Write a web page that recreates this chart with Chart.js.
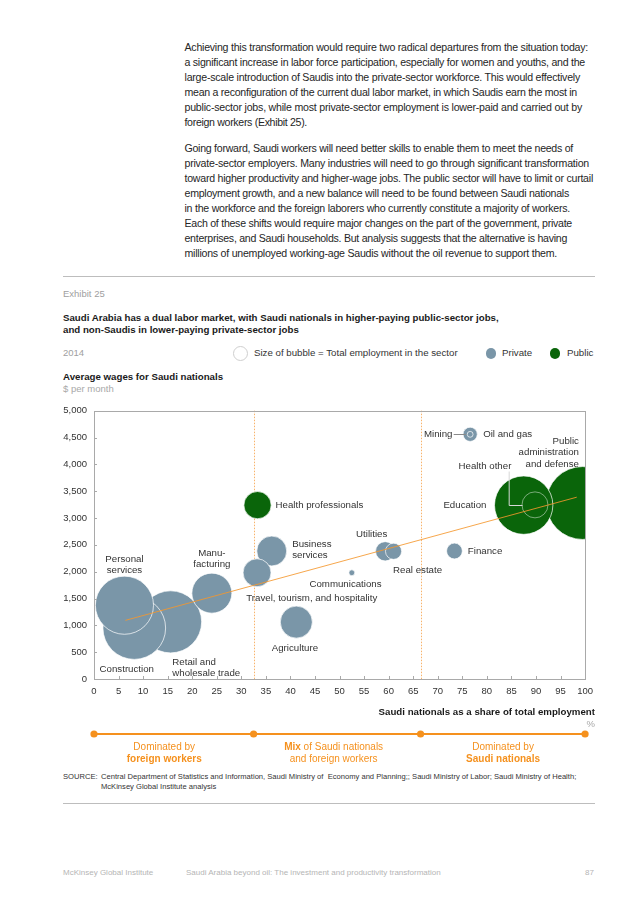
<!DOCTYPE html>
<html><head><meta charset="utf-8">
<script src="https://cdn.jsdelivr.net/npm/chart.js@4.4.1/dist/chart.umd.min.js"></script>
<style>
body{margin:0;background:#fff;width:636px;height:900px;position:relative;overflow:hidden;font-family:"Liberation Sans",Arial,sans-serif;color:#222}
.a{position:absolute;white-space:nowrap}
.body{left:184.5px;font-size:10.6px;line-height:15px;color:#262626}
.rule{position:absolute;left:63px;width:532px;height:1px;background:#bdbdbd}
.grey{color:#9a9a9a}
#wrap{position:absolute;left:60px;top:398px;width:540px;height:372px}
.dot{position:absolute;border-radius:50%}
</style></head><body>

<div class="a body fit" data-w="403.5" style="top:39.5px">Achieving this transformation would require two radical departures from the situation today:</div>
<div class="a body fit" data-w="400.5" style="top:54.5px">a significant increase in labor force participation, especially for women and youths, and the</div>
<div class="a body fit" data-w="395.5" style="top:69.5px">large-scale introduction of Saudis into the private-sector workforce. This would effectively</div>
<div class="a body fit" data-w="392.5" style="top:84.5px">mean a reconfiguration of the current dual labor market, in which Saudis earn the most in</div>
<div class="a body fit" data-w="397.5" style="top:99.5px">public-sector jobs, while most private-sector employment is lower-paid and carried out by</div>
<div class="a body fit" data-w="122.5" style="top:114.5px">foreign workers (Exhibit 25).</div>

<div class="a body fit" data-w="388.5" style="top:141px">Going forward, Saudi workers will need better skills to enable them to meet the needs of</div>
<div class="a body fit" data-w="404.5" style="top:156px">private-sector employers. Many industries will need to go through significant transformation</div>
<div class="a body fit" data-w="408.5" style="top:171px">toward higher productivity and higher-wage jobs. The public sector will have to limit or curtail</div>
<div class="a body fit" data-w="384.5" style="top:186px">employment growth, and a new balance will need to be found between Saudi nationals</div>
<div class="a body fit" data-w="385.5" style="top:201px">in the workforce and the foreign laborers who currently constitute a majority of workers.</div>
<div class="a body fit" data-w="387.5" style="top:216px">Each of these shifts would require major changes on the part of the government, private</div>
<div class="a body fit" data-w="382.5" style="top:231px">enterprises, and Saudi households. But analysis suggests that the alternative is having</div>
<div class="a body fit" data-w="372.5" style="top:246px">millions of unemployed working-age Saudis without the oil revenue to support them.</div>

<div class="rule" style="top:276px"></div>

<div class="a" style="left:63px;top:288px;font-size:9.5px;color:#a0a0a0">Exhibit 25</div>
<div class="a" style="left:63px;top:311.5px;font-size:9.7px;font-weight:bold;line-height:12.5px;color:#1a1a1a">Saudi Arabia has a dual labor market, with Saudi nationals in higher-paying public-sector jobs,<br>and non-Saudis in lower-paying private-sector jobs</div>

<div class="a" style="left:63px;top:347px;font-size:9.5px;color:#a0a0a0">2014</div>
<div class="dot" style="left:232.5px;top:346px;width:13px;height:13px;border:1px solid #cfcfcf"></div>
<div class="a" style="left:254px;top:347px;font-size:9.7px;color:#333">Size of bubble = Total employment in the sector</div>
<div class="dot" style="left:485.5px;top:348px;width:10.5px;height:10.5px;background:#7a96a8"></div>
<div class="a" style="left:502px;top:347px;font-size:9.7px;color:#333">Private</div>
<div class="dot" style="left:549.5px;top:348px;width:10.5px;height:10.5px;background:#0a650a"></div>
<div class="a" style="left:567px;top:347px;font-size:9.7px;color:#333">Public</div>

<div class="a" style="left:63px;top:371px;font-size:9.7px;font-weight:bold;color:#1a1a1a">Average wages for Saudi nationals</div>
<div class="a" style="left:63px;top:382.5px;font-size:9.5px;color:#a8a8a8">$ per month</div>

<div id="wrap"><canvas id="c"></canvas></div>

<div class="a" style="right:41px;top:706px;font-size:9.7px;font-weight:bold;color:#1a1a1a">Saudi nationals as a share of total employment</div>
<div class="a" style="right:41px;top:717.5px;font-size:9.5px;color:#a8a8a8">%</div>

<div class="a" style="left:63px;top:772px;font-size:7.6px;line-height:10px;color:#333">SOURCE:</div>
<div class="a" style="left:101px;top:772px;font-size:7.6px;line-height:10px;color:#333">Central Department of Statistics and Information, Saudi Ministry of&nbsp; Economy and Planning;; Saudi Ministry of Labor; Saudi Ministry of Health;<br>McKinsey Global Institute analysis</div>

<div class="rule" style="top:803px"></div>

<div class="a" style="left:63px;top:868px;font-size:8px;color:#b5b5b5">McKinsey Global Institute</div>
<div class="a" style="left:186px;top:868px;font-size:8px;color:#b5b5b5">Saudi Arabia beyond oil: The investment and productivity transformation</div>
<div class="a" style="right:42px;top:868px;font-size:8px;color:#b5b5b5">87</div>

<script>
// ---------- DATA ----------
const sectors = ["Public administration and defense","Education","Health other","Health professionals",
  "Retail and wholesale trade","Construction","Personal services","Manufacturing","Business services",
  "Travel, tourism, and hospitality","Agriculture","Communications","Utilities","Real estate","Finance",
  "Oil and gas","Mining"];
const saudiShare = [99.5, 87.5, 89.8, 33.3, 15.6, 8.2, 6.2, 24.0, 36.2, 33.2, 41.2, 52.5, 59.3, 61.0, 73.4, 76.6, 76.6];
const avgWage    = [3280, 3240, 3245, 3240, 1065, 950, 1375, 1600, 2385, 1980, 1060, 1980, 2380, 2380, 2385, 4560, 4560];
const employmentK= [2790, 1790, 355, 390, 2025, 2065, 1775, 840, 470, 410, 540, 18, 196, 137, 131, 106, 18];
const sectorType = ["Public","Public","Public","Public","Private","Private","Private","Private","Private",
  "Private","Private","Private","Private","Private","Private","Private","Private"];
const trendShare = [6.4, 98.3];
const trendWage  = [1093, 3388];
const zoneBounds = [0, 32.5, 66.5, 100];
const xTickStep = 5, yTickStep = 500;

// ---------- STYLE ----------
const COLORS = {Private:'#7a96a8', Public:'#0a650a'};
const ORANGE = '#f5911e';
const R_SCALE = 0.69;
const FONT = '"Liberation Sans", Arial, sans-serif';

// label placement relative to bubble centre (px)
const labelSpec = {
  "Personal services": {lines:["Personal","services"], dx:0, dy:-46, align:'center'},
  "Construction": {lines:["Construction"], dx:-7.5, dy:41.5, align:'center'},
  "Retail and wholesale trade": {lines:["Retail and","wholesale trade"], dx:1.7, dy:40, align:'left'},
  "Manufacturing": {lines:["Manu-","facturing"], dx:0, dy:-40, align:'center'},
  "Health professionals": {lines:["Health professionals"], dx:18, dy:0, align:'left'},
  "Business services": {lines:["Business","services"], dx:20.4, dy:-7, align:'left'},
  "Travel, tourism, and hospitality": {lines:["Travel, tourism, and hospitality"], dx:54.7, dy:25.7, align:'center'},
  "Agriculture": {lines:["Agriculture"], dx:-1.4, dy:25.7, align:'center'},
  "Communications": {lines:["Communications"], dx:-6.3, dy:11.3, align:'center'},
  "Utilities": {lines:["Utilities"], dx:-13.5, dy:-16.7, align:'center'},
  "Real estate": {lines:["Real estate"], dx:24, dy:19.3, align:'center'},
  "Finance": {lines:["Finance"], dx:13.4, dy:0, align:'left'},
  "Oil and gas": {lines:["Oil and gas"], dx:13, dy:0, align:'left'},
  "Mining": {lines:["Mining"], dx:-17.7, dy:0, align:'right', leader:[[-16.5,0],[-4,0]]},
  "Public administration and defense": {lines:["Public","administration","and defense"], dx:-3.7, dy:-61.7, align:'right'},
  "Health other": {lines:["Health other"], dx:-50, dy:-39, align:'center', leader:[[-25.8,-33.5],[-25.8,0],[-12.5,0]]},
  "Education": {lines:["Education"], dx:-37.2, dy:0, align:'right'}
};

// fit body lines
document.querySelectorAll('.fit').forEach(el=>{
  const target = parseFloat(el.dataset.w);
  const w = el.getBoundingClientRect().width;
  const n = el.textContent.length;
  el.style.letterSpacing = ((target - w) / n) + 'px';
});

const overlay = {
  id:'overlay',
  beforeDatasetsDraw(chart){
    const {ctx, chartArea:ca, scales:{x}} = chart;
    ctx.save();
    ctx.strokeStyle = '#f8b36a'; ctx.lineWidth = 1; ctx.setLineDash([1.5,1.5]);
    [zoneBounds[1], zoneBounds[2]].forEach(v=>{
      const px = Math.round(x.getPixelForValue(v)) + 0.5;
      ctx.beginPath(); ctx.moveTo(px, ca.top); ctx.lineTo(px, ca.bottom); ctx.stroke();
    });
    ctx.restore();
  },
  afterDatasetsDraw(chart){
    const {ctx, chartArea:ca, scales:{x,y}} = chart;
    ctx.save();
    // frame
    ctx.strokeStyle = '#a9a9a9'; ctx.lineWidth = 1;
    ctx.strokeRect(Math.round(ca.left)+0.5, Math.round(ca.top)+0.5, Math.round(ca.right-ca.left), Math.round(ca.bottom-ca.top));
    // inner ticks
    ctx.beginPath();
    for (let v = xTickStep; v < 100; v += xTickStep){
      const px = Math.round(x.getPixelForValue(v))+0.5;
      ctx.moveTo(px, ca.bottom); ctx.lineTo(px, ca.bottom-3);
    }
    for (let v = yTickStep; v < 5000; v += yTickStep){
      const py = Math.round(y.getPixelForValue(v))+0.5;
      ctx.moveTo(ca.left, py); ctx.lineTo(ca.left+3, py);
    }
    ctx.stroke();
    // labels
    ctx.font = '9.7px ' + FONT; ctx.fillStyle = '#333'; ctx.textBaseline = 'middle';
    sectors.forEach((s,i)=>{
      const spec = labelSpec[s]; if (!spec) return;
      const cx = x.getPixelForValue(saudiShare[i]), cy = y.getPixelForValue(avgWage[i]);
      ctx.textAlign = spec.align;
      spec.lines.forEach((t,k)=> ctx.fillText(t, cx+spec.dx, cy+spec.dy+k*11.5));
      if (spec.leader){
        ctx.strokeStyle = s === 'Mining' ? '#8a8a8a' : '#d8d8d8'; ctx.lineWidth = 1;
        ctx.beginPath();
        spec.leader.forEach((p,k)=>{ const X = cx+p[0], Y = Math.round(cy+p[1])+0.5; k?ctx.lineTo(X,Y):ctx.moveTo(X,Y); });
        ctx.stroke();
      }
    });
    // bottom zone annotation
    const ly = ca.bottom + 55;
    ctx.strokeStyle = ORANGE; ctx.fillStyle = ORANGE; ctx.lineWidth = 2;
    ctx.beginPath(); ctx.moveTo(x.getPixelForValue(zoneBounds[0]), ly); ctx.lineTo(x.getPixelForValue(zoneBounds[3]), ly); ctx.stroke();
    zoneBounds.forEach(v=>{ ctx.beginPath(); ctx.arc(x.getPixelForValue(v), ly, 3.6, 0, Math.PI*2); ctx.fill(); });
    const zoneText = [
      {at:14.3, l1:[["Dominated by",false]], l2:[["foreign workers",true]]},
      {at:48.8, l1:[["Mix",true],[" of Saudi nationals",false]], l2:[["and foreign workers",false]]},
      {at:83.3, l1:[["Dominated by",false]], l2:[["Saudi nationals",true]]}
    ];
    ctx.textAlign = 'left';
    zoneText.forEach(z=>{
      const cx = x.getPixelForValue(z.at);
      [[z.l1, ly+13], [z.l2, ly+25]].forEach(([parts, yy])=>{
        let total = 0;
        parts.forEach(([t,b])=>{ ctx.font = (b?'bold ':'') + '10px ' + FONT; total += ctx.measureText(t).width; });
        let xx = cx - total/2;
        parts.forEach(([t,b])=>{ ctx.font = (b?'bold ':'') + '10px ' + FONT; ctx.fillText(t, xx, yy); xx += ctx.measureText(t).width; });
      });
    });
    ctx.restore();
  }
};

const bubbleData = sectors.map((s,i)=>({x: saudiShare[i], y: avgWage[i], r: Math.sqrt(employmentK[i])*R_SCALE}));

new Chart(document.getElementById('c'), {
  data: {
    datasets: [
      {type:'line', order:0, data: trendShare.map((v,i)=>({x:v, y:trendWage[i]})),
       borderColor:'rgba(245,150,45,0.85)', borderWidth:1, pointRadius:0, clip:0},
      {type:'bubble', order:1, data: bubbleData,
       backgroundColor: c => COLORS[sectorType[c.dataIndex]],
       borderColor: c => (sectors[c.dataIndex]==='Health other') ? 'rgba(255,255,255,0.45)' : 'rgba(255,255,255,0.7)',
       borderWidth: 1, clip: 0}
    ]
  },
  options: {
    responsive: true, maintainAspectRatio: false, animation: false, events: [],
    layout: {autoPadding: false, padding: {left:0, right:14, top:8, bottom:71}},
    plugins: {legend:{display:false}, tooltip:{enabled:false}},
    scales: {
      x: {type:'linear', min:0, max:100,
          ticks:{stepSize:xTickStep, padding:7, color:'#333', font:{size:9.5, family:FONT}},
          grid:{display:false, drawTicks:false}, border:{display:false},
          afterFit(s){ s.height = 20; }},
      y: {type:'linear', min:0, max:5000,
          ticks:{stepSize:yTickStep, padding:7, color:'#333', font:{size:9.5, family:FONT},
                 callback: v => v.toLocaleString('en-US')},
          grid:{display:false, drawTicks:false}, border:{display:false},
          afterFit(s){ s.width = 34; }}
    }
  },
  plugins: [overlay]
});
</script>
</body></html>
